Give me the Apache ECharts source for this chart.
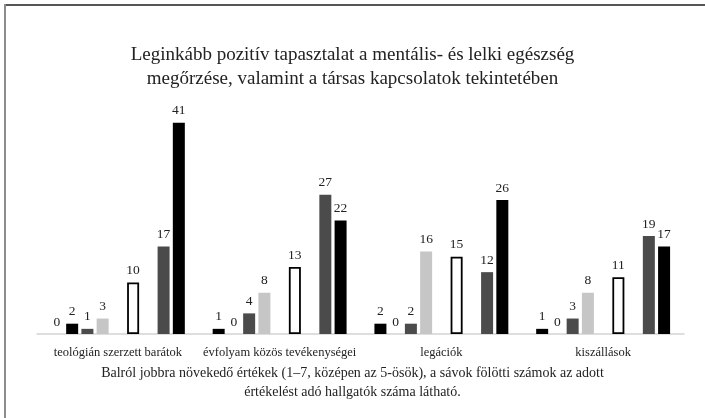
<!DOCTYPE html>
<html>
<head>
<meta charset="utf-8">
<script src="https://cdn.jsdelivr.net/npm/echarts@6/dist/echarts.min.js"></script>
<style>html,body{margin:0;padding:0;background:#fff}#c{width:705px;height:418px}</style>
</head>
<body>
<div id="c"></div>
<script>
var categories = ['teológián szerzett barátok', 'évfolyam közös tevékenységei', 'legációk', 'kiszállások'];
var v1 = [0, 1, 2, 1];
var v2 = [2, 0, 0, 0];
var v3 = [1, 4, 2, 3];
var v4 = [3, 8, 16, 8];
var v5 = [10, 13, 15, 11];
var v6 = [17, 27, 12, 19];
var v7 = [41, 22, 26, 17];
var titleText = 'Leginkább pozitív tapasztalat a mentális- és lelki egészség\nmegőrzése, valamint a társas kapcsolatok tekintetében';
var noteText = 'Balról jobbra növekedő értékek (1–7, középen az 5-ösök), a sávok fölötti számok az adott\nértékelést adó hallgatók száma látható.';

var FONT = '"Liberation Serif", "DejaVu Serif", serif';
var BLACK = '#000000', DARK = '#4b4b4b', LIGHT = '#c6c6c6';

function bar(name, data, color, border) {
  return {
    name: name, type: 'bar', data: data, barWidth: 12, barGap: '27%',
    itemStyle: { color: color, borderColor: border || color, borderWidth: border ? 1.8 : 0 },
    label: { show: true, position: 'top', distance: 5, color: '#222', fontFamily: FONT, fontSize: 13.5 }
  };
}
function gap() {
  return { name: '', type: 'bar', data: categories.map(function(){ return null; }), barWidth: 12, barGap: '27%' };
}

var chart = echarts.init(document.getElementById('c'));
chart.setOption({
  animation: false,
  backgroundColor: '#fff',
  title: [
    { text: titleText, left: 'center', top: 38,
      textStyle: { fontFamily: FONT, fontSize: 19, fontWeight: 'normal', color: '#222', lineHeight: 24 } },
    { text: noteText, left: 'center', top: 359,
      textStyle: { fontFamily: FONT, fontSize: 14, fontWeight: 'normal', color: '#222', lineHeight: 19 } }
  ],
  graphic: [
    { type: 'line', shape: { x1: 5, y1: 5, x2: 705, y2: 5 }, style: { stroke: '#555', lineWidth: 2 } },
    { type: 'line', shape: { x1: 5, y1: 4, x2: 5, y2: 418 }, style: { stroke: '#8c8c8c', lineWidth: 2 } }
  ],
  grid: { left: 37, right: 21, top: 122.7, bottom: 84 },
  xAxis: {
    type: 'category', data: categories,
    axisLine: { lineStyle: { color: '#d4d4d4', width: 1.5 } },
    axisTick: { show: false },
    axisLabel: { color: '#222', fontFamily: FONT, fontSize: 12.5, margin: 12, interval: 0 }
  },
  yAxis: { type: 'value', min: 0, max: 41, show: false, splitLine: { show: false } },
  series: [
    bar('1', v1, BLACK),
    bar('2', v2, BLACK),
    bar('3', v3, DARK),
    bar('4', v4, LIGHT),
    gap(),
    bar('5', v5, '#ffffff', '#000000'),
    gap(),
    bar('6', v6, DARK),
    bar('7', v7, BLACK)
  ]
});
</script>
</body>
</html>
